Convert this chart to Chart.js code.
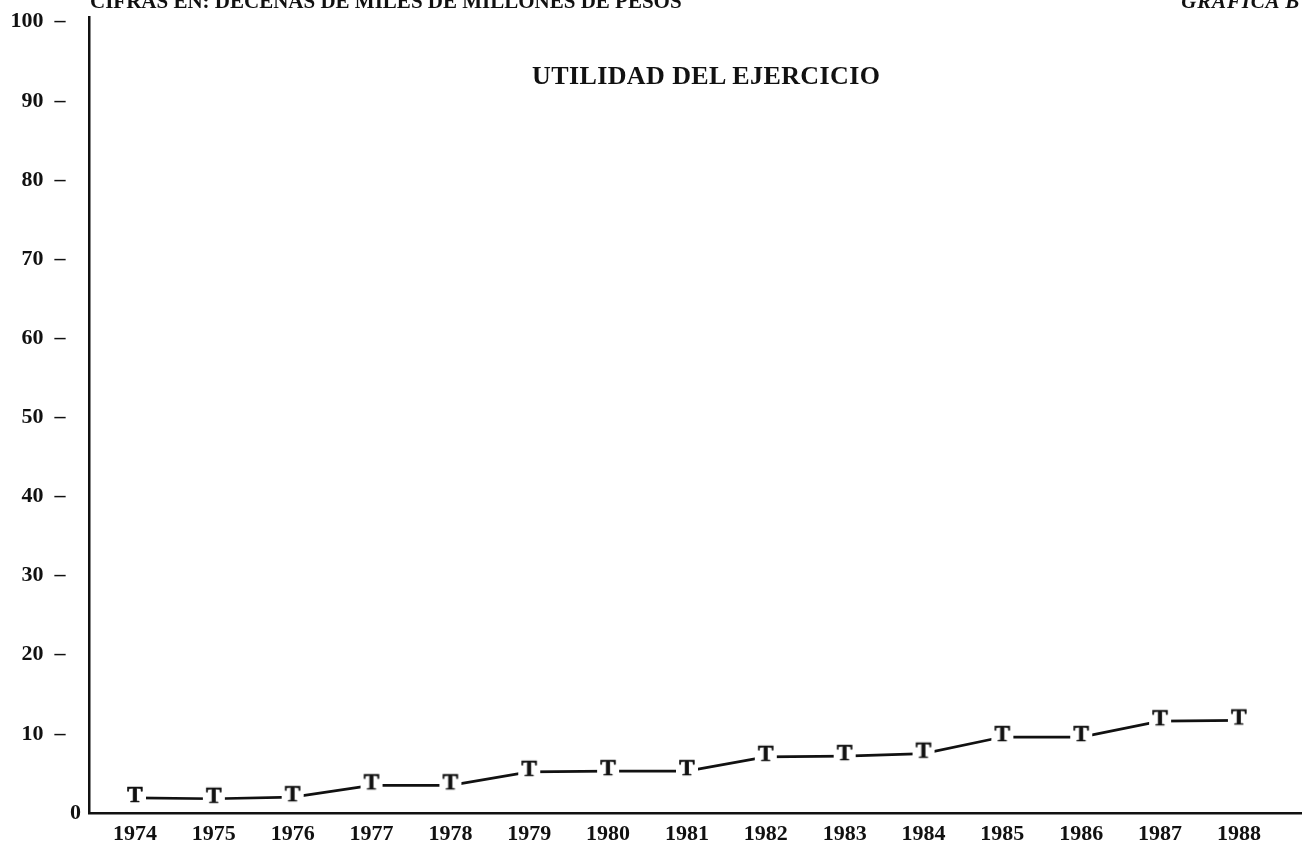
<!DOCTYPE html>
<html>
<head>
<meta charset="utf-8">
<script src="https://cdn.jsdelivr.net/npm/chart.js@4.4.1/dist/chart.umd.min.js"></script>
<style>
  html, body { margin: 0; padding: 0; background: #fff; }
  #wrap { position: relative; width: 1302px; height: 863px; overflow: hidden; }
  canvas { position: absolute; left: 0; top: 0; }
  .txt { position: absolute; font-family: "Liberation Serif", "DejaVu Serif", serif; font-weight: bold; color: #111; white-space: nowrap; }
  #header { left: 90px; top: -9px; font-size: 21px; line-height: 21px; }
  #grafica { right: 2px; top: -9px; font-size: 21px; line-height: 21px; font-style: italic; letter-spacing: 0.8px; }
  #title { left: 532px; top: 61px; font-size: 26px; line-height: 30px; letter-spacing: 0.4px; }
</style>
</head>
<body>
<div id="wrap">
  <canvas id="c" width="1302" height="863"></canvas>
  <div class="txt" id="header">CIFRAS EN: DECENAS DE MILES DE MILLONES DE PESOS</div>
  <div class="txt" id="grafica">GRAFICA B</div>
  <div class="txt" id="title">UTILIDAD DEL EJERCICIO</div>
</div>
<script>
const years = [1974, 1975, 1976, 1977, 1978, 1979, 1980, 1981, 1982, 1983, 1984, 1985, 1986, 1987, 1988];
const utilidad = [1.9, 1.8, 2.0, 3.5, 3.5, 5.2, 5.3, 5.3, 7.1, 7.2, 7.5, 9.6, 9.6, 11.6, 11.7];
const yTicks = [0, 10, 20, 30, 40, 50, 60, 70, 80, 90, 100];

const FONT = '"Liberation Serif", "DejaVu Serif", serif';

// "T" marker with white knock-out so the line stops short of the letter
function makeMarker() {
  const cv = document.createElement('canvas');
  cv.width = 26; cv.height = 30;
  const g = cv.getContext('2d');
  g.fillStyle = '#fff';
  g.fillRect(2, 2, 22, 20);
  g.fillStyle = '#111';
  g.strokeStyle = '#111';
  g.lineWidth = 0.7;
  g.font = 'bold 23px ' + FONT;
  g.textAlign = 'center';
  g.textBaseline = 'alphabetic';
  g.fillText('T', 13, 19);
  g.strokeText('T', 13, 19);
  return cv;
}
const marker = makeMarker();

const points = years.map((y, i) => ({ x: y, y: utilidad[i] }));

new Chart(document.getElementById('c'), {
  type: 'line',
  data: {
    datasets: [{
      data: points,
      borderColor: '#111',
      borderWidth: 2.7,
      tension: 0,
      pointStyle: marker,
      pointRadius: 10,
      fill: false,
      clip: false
    }]
  },
  options: {
    responsive: false,
    animation: false,
    events: [],
    layout: { autoPadding: false, padding: { top: 17, right: 0, left: 0, bottom: 0 } },
    plugins: { legend: { display: false }, tooltip: { enabled: false }, title: { display: false } },
    scales: {
      x: {
        type: 'linear',
        min: 1973.417,
        max: 1988.8,
        grid: { display: false, drawTicks: false },
        border: { display: true, color: '#111', width: 2.5 },
        afterBuildTicks: s => { s.ticks = years.map(v => ({ value: v })); },
        afterFit: s => { s.height = 50; s.paddingLeft = 0; s.paddingRight = 0; },
        ticks: {
          autoSkip: false,
          maxRotation: 0,
          padding: 8,
          color: '#111',
          font: { family: FONT, size: 22, weight: 'bold' },
          callback: v => String(v)
        }
      },
      y: {
        min: 0,
        max: 100.6,
        grid: { display: false, drawTicks: false },
        border: { display: true, color: '#111', width: 2.5 },
        afterBuildTicks: s => { s.ticks = yTicks.map(v => ({ value: v })); },
        afterFit: s => { s.width = 89; s.paddingTop = 0; s.paddingBottom = 0; },
        ticks: {
          padding: 8,
          color: '#111',
          font: { family: FONT, size: 22, weight: 'bold' },
          callback: v => v === 0 ? '0' : v + '  \u2013  \u2009'
        }
      }
    }
  }
});
</script>
</body>
</html>
